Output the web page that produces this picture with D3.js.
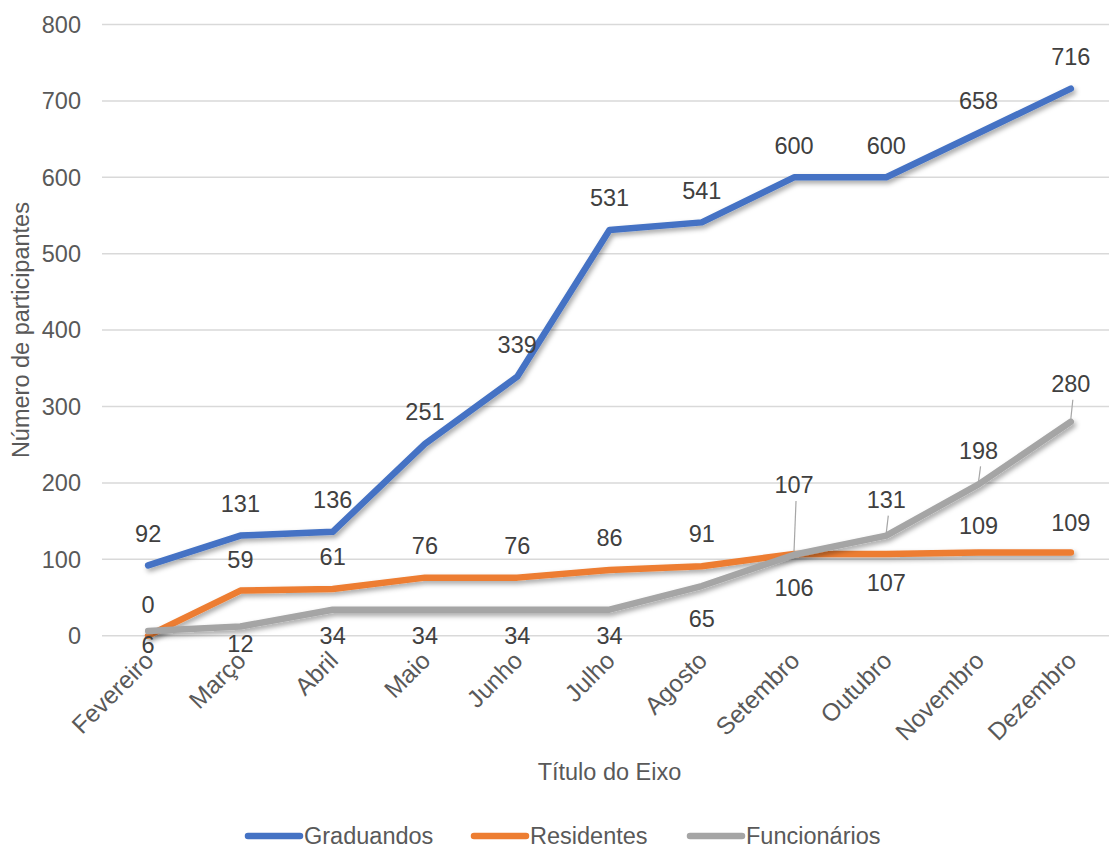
<!DOCTYPE html>
<html lang="pt">
<head>
<meta charset="UTF-8">
<title>Número de participantes</title>
<script src="https://d3js.org/d3.v7.min.js"></script>
<style>
    body { margin: 0; background: #fff; }
    svg { display: block; font-family: 'Liberation Sans', Arial, sans-serif; }
    .tick-label { font-size: 23.5px; fill: #595959; }
    .month-label { font-size: 24.5px; fill: #595959; }
    .data-label { font-size: 23.5px; fill: #404040; }
    .axis-title { font-size: 23.5px; fill: #595959; }
    .legend-text { font-size: 23.5px; fill: #595959; }
</style>
</head>
<body>
<svg id="chart" width="1109" height="848"></svg>
<script>
    // dados
    const months = ['Fevereiro', 'Março', 'Abril', 'Maio', 'Junho', 'Julho',
                    'Agosto', 'Setembro', 'Outubro', 'Novembro', 'Dezembro'];
    const graduandos = [92, 131, 136, 251, 339, 531, 541, 600, 600, 658, 716];
    const residentes = [0, 59, 61, 76, 76, 86, 91, 107, 107, 109, 109];
    const funcionarios = [6, 12, 34, 34, 34, 34, 65, 106, 131, 198, 280];
    const yTicks = [0, 100, 200, 300, 400, 500, 600, 700, 800];

    // posicao dos rotulos (deslocamento vertical em px, leader = linha de chamada)
    const series = [
        { name: 'Graduandos', values: graduandos, color: '#4472C4',
          dy: [-32, -32, -32, -32, -32, -32, -32, -32, -32, -32, -32], leader: [] },
        { name: 'Residentes', values: residentes, color: '#ED7D31',
          dy: [-31, -31, -32, -32, -32, -32, -32, -69, 29, -27, -30], leader: [7] },
        { name: 'Funcionários', values: funcionarios, color: '#A5A5A5',
          dy: [14, 17, 26, 26, 26, 26, 33, 33, -36, -34, -38], leader: [8, 9, 10] }
    ];

    const svg = d3.select('#chart');
    const plotLeft = 102, plotTop = 24.5, plotBottom = 635.7;
    const step = 92.27;
    const plotRight = plotLeft + step * months.length;

    const x = d3.scaleBand()
        .domain(months)
        .range([plotLeft, plotRight]);
    const cx = m => x(m) + x.bandwidth() / 2;

    const y = d3.scaleLinear()
        .domain([0, 800])
        .range([plotBottom, plotTop]);

    // sombra das linhas
    const defs = svg.append('defs');
    defs.append('filter')
        .attr('id', 'shadow')
        .attr('x', '-10%').attr('y', '-10%')
        .attr('width', '120%').attr('height', '130%')
        .append('feDropShadow')
        .attr('dx', 2).attr('dy', 3)
        .attr('stdDeviation', 2.5)
        .attr('flood-color', '#000')
        .attr('flood-opacity', 0.35);

    // grade
    svg.append('g')
        .selectAll('line')
        .data(yTicks)
        .join('line')
        .attr('x1', plotLeft)
        .attr('x2', plotRight)
        .attr('y1', d => y(d))
        .attr('y2', d => y(d))
        .attr('stroke', '#d9d9d9')
        .attr('stroke-width', 1.5);

    // eixo Y
    svg.append('g')
        .selectAll('text')
        .data(yTicks)
        .join('text')
        .attr('class', 'tick-label')
        .attr('x', 81)
        .attr('y', d => y(d))
        .attr('dy', '0.35em')
        .attr('text-anchor', 'end')
        .text(d => d);

    // eixo X
    svg.append('g')
        .selectAll('text')
        .data(months)
        .join('text')
        .attr('class', 'month-label')
        .attr('text-anchor', 'end')
        .attr('transform', d => `translate(${cx(d) + 7},${662}) rotate(-45)`)
        .text(d => d);

    // titulos
    svg.append('text')
        .attr('class', 'axis-title')
        .attr('text-anchor', 'middle')
        .attr('transform', `translate(29,${(plotTop + plotBottom) / 2}) rotate(-90)`)
        .text('Número de participantes');

    svg.append('text')
        .attr('class', 'axis-title')
        .attr('text-anchor', 'middle')
        .attr('x', (plotLeft + plotRight) / 2)
        .attr('y', 772)
        .attr('dy', '0.35em')
        .text('Título do Eixo');

    // linhas
    const line = d3.line()
        .x((d, i) => cx(months[i]))
        .y(d => y(d));

    series.forEach(s => {
        svg.append('path')
            .datum(s.values)
            .attr('d', line)
            .attr('fill', 'none')
            .attr('stroke', s.color)
            .attr('stroke-width', 6.5)
            .attr('stroke-linejoin', 'round')
            .attr('stroke-linecap', 'round')
            .attr('filter', 'url(#shadow)');
    });

    // rotulos de dados
    series.forEach(s => {
        const g = svg.append('g');
        s.values.forEach((v, i) => {
            const px = cx(months[i]);
            const py = y(v);
            const ly = py + s.dy[i];
            if (s.leader.includes(i)) {
                g.append('line')
                    .attr('x1', px + 2).attr('x2', px)
                    .attr('y1', ly + 16)
                    .attr('y2', py - 3)
                    .attr('stroke', '#a6a6a6')
                    .attr('stroke-width', 1.2);
            }
            g.append('text')
                .attr('class', 'data-label')
                .attr('x', px)
                .attr('y', ly)
                .attr('dy', '0.35em')
                .attr('text-anchor', 'middle')
                .text(v);
        });
    });

    // legenda
    const legendX = [245, 471, 687];
    const legend = svg.append('g');
    series.forEach((s, i) => {
        legend.append('line')
            .attr('x1', legendX[i] + 3)
            .attr('x2', legendX[i] + 55)
            .attr('y1', 836).attr('y2', 836)
            .attr('stroke', s.color)
            .attr('stroke-width', 6.5)
            .attr('stroke-linecap', 'round');
        legend.append('text')
            .attr('class', 'legend-text')
            .attr('x', legendX[i] + 59)
            .attr('y', 836)
            .attr('dy', '0.35em')
            .text(s.name);
    });
</script>
</body>
</html>
